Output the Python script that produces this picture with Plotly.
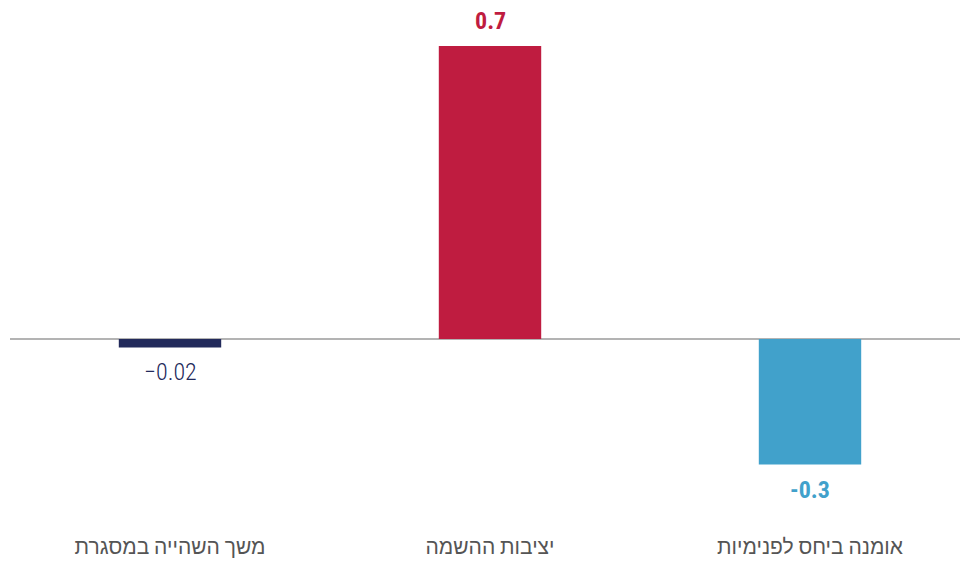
import plotly.graph_objects as go

categories = ["משך השהייה במסגרת", "יציבות ההשמה", "אומנה ביחס לפנימיות"]
values = [-0.02, 0.7, -0.3]
colors = ["#222a5b", "#bf1c40", "#41a1cb"]
weights = [300, 700, 700]

texts = [f"{v:g}".replace("-", "\u2212" if w < 500 else "-") for v, w in zip(values, weights)]

FONT = "Roboto Condensed, Liberation Sans Narrow, Arial Narrow, Roboto, sans-serif"

fig = go.Figure(go.Bar(
    x=categories, y=values,
    marker=dict(color=colors, line=dict(width=0)),
    width=0.32,
    hoverinfo="skip",
))

for c, v, t, col, w in zip(categories, values, texts, colors, weights):
    fig.add_annotation(
        x=c, y=v, text=t, showarrow=False,
        yanchor="bottom" if v > 0 else "top",
        yshift=9 if v > 0 else -9,
        font=dict(family=FONT, size=24, color=col, weight=w),
    )

fig.update_layout(
    width=960, height=562,
    margin=dict(l=10, r=0, t=10, b=30, autoexpand=False),
    paper_bgcolor="white", plot_bgcolor="white",
    showlegend=False,
    xaxis=dict(range=[-0.5, 2.46875], showgrid=False, showline=False, ticks="",
               automargin=False,
               tickfont=dict(family=FONT, size=21, color="#555555")),
    yaxis=dict(range=[-0.461, 0.786], showgrid=False, showticklabels=False,
               automargin=False,
               zeroline=True, zerolinecolor="#b3b3b3", zerolinewidth=1.5),
)

fig.write_html("out.html", config={"displayModeBar": False},
               post_script="document.body.style.margin='0';")
